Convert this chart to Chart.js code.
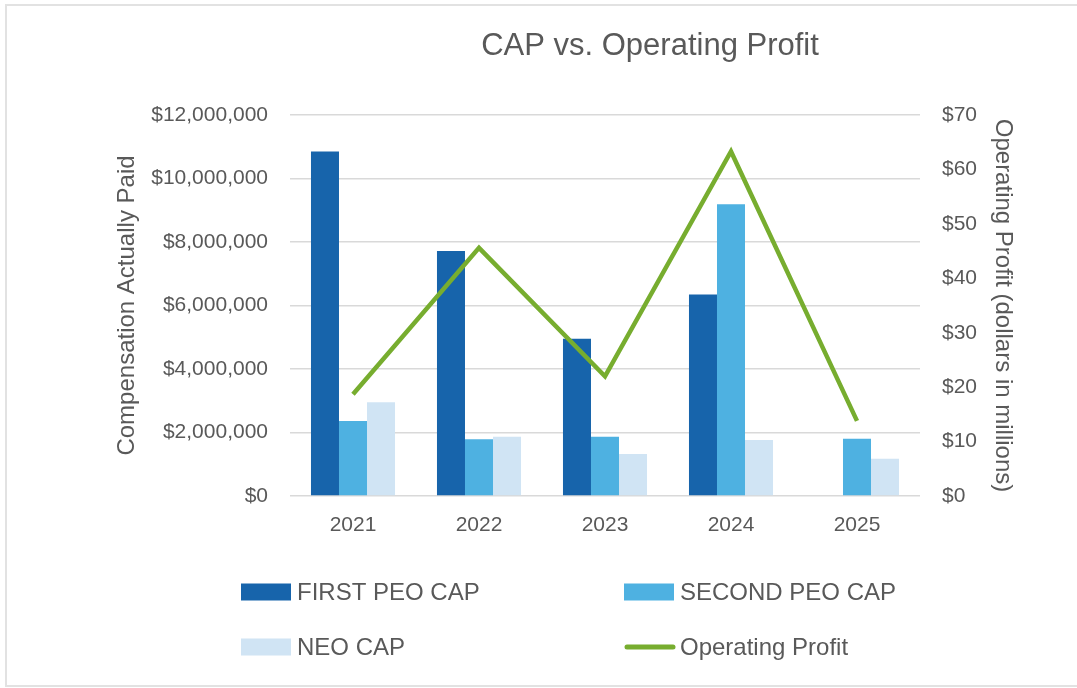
<!DOCTYPE html>
<html>
<head>
<meta charset="utf-8">
<script src="https://cdn.jsdelivr.net/npm/chart.js@4.4.1/dist/chart.umd.min.js"></script>
<style>
  html, body { margin: 0; padding: 0; background: #fff; }
  #wrap { position: relative; width: 1077px; height: 688px; }
</style>
</head>
<body>
<div id="wrap"><canvas id="c" width="1077" height="688"></canvas></div>
<script>
const chartTitle = 'CAP vs. Operating Profit';
const categories = ['2021', '2022', '2023', '2024', '2025'];
const firstPeoCap = [10850000, 7720000, 4950000, 6350000, null];
const secondPeoCap = [2360000, 1790000, 1870000, 9190000, 1800000];
const neoCap = [2950000, 1870000, 1320000, 1760000, 1170000];
const operatingProfit = [18.7, 45.6, 22.0, 63.3, 13.8];
const leftTicks = [0, 2000000, 4000000, 6000000, 8000000, 10000000, 12000000];
const rightTicks = [0, 10, 20, 30, 40, 50, 60, 70];
const seriesLabels = ['FIRST PEO CAP', 'SECOND PEO CAP', 'NEO CAP', 'Operating Profit'];

const FONT = '"Liberation Sans", Arial, sans-serif';
const TXT = '#595959';

const framePlugin = {
  id: 'frame',
  beforeDraw(chart) {
    const ctx = chart.ctx;
    ctx.save();
    ctx.fillStyle = '#ffffff';
    ctx.fillRect(0, 0, chart.width, chart.height);
    ctx.strokeStyle = '#e2e2e2';
    ctx.lineWidth = 2;
    ctx.beginPath();
    ctx.moveTo(1077, 5);
    ctx.lineTo(6, 5);
    ctx.lineTo(6, 686);
    ctx.lineTo(1077, 686);
    ctx.stroke();
    ctx.restore();
  }
};

const titleLegendPlugin = {
  id: 'titleLegend',
  afterDraw(chart) {
    const ctx = chart.ctx;
    ctx.save();
    ctx.fillStyle = TXT;
    ctx.font = '31px ' + FONT;
    ctx.textAlign = 'center';
    ctx.textBaseline = 'alphabetic';
    ctx.fillText(chartTitle, 650, 55);

    const cols = [241, 624];
    const rows = [592, 647];
    chart.data.datasets.forEach((ds, i) => {
      const x = cols[i % 2];
      const y = rows[Math.floor(i / 2)];
      if (ds.type === 'line') {
        ctx.strokeStyle = ds.borderColor;
        ctx.lineWidth = 5;
        ctx.lineCap = 'round';
        ctx.beginPath();
        ctx.moveTo(x + 3, y);
        ctx.lineTo(x + 49, y);
        ctx.stroke();
      } else {
        ctx.fillStyle = ds.backgroundColor;
        ctx.fillRect(x, y - 8.5, 50, 17);
      }
      ctx.fillStyle = TXT;
      ctx.font = '24px ' + FONT;
      ctx.textAlign = 'left';
      ctx.textBaseline = 'middle';
      ctx.fillText(ds.label, x + 56, y + 1);
    });
    ctx.restore();
  }
};

new Chart(document.getElementById('c'), {
  data: {
    labels: categories,
    datasets: [
      { type: 'bar', label: seriesLabels[0], data: firstPeoCap, backgroundColor: '#1764AB', yAxisID: 'y', order: 1 },
      { type: 'bar', label: seriesLabels[1], data: secondPeoCap, backgroundColor: '#4EB1E1', yAxisID: 'y', order: 1 },
      { type: 'bar', label: seriesLabels[2], data: neoCap, backgroundColor: '#D0E4F4', yAxisID: 'y', order: 1 },
      { type: 'line', label: seriesLabels[3], data: operatingProfit, borderColor: '#77AD2F', backgroundColor: '#77AD2F',
        borderWidth: 4.5, pointRadius: 0, tension: 0, yAxisID: 'y1', order: 0 }
    ]
  },
  options: {
    responsive: false,
    animation: false,
    devicePixelRatio: 1,
    layout: { padding: { left: 100, right: 50, top: 115, bottom: 0 } },
    datasets: { bar: { barPercentage: 1, categoryPercentage: 0.667 } },
    plugins: {
      legend: { display: false },
      title: { display: false },
      tooltip: { enabled: false }
    },
    scales: {
      x: {
        grid: { display: false, drawTicks: false },
        border: { display: false },
        ticks: { color: TXT, font: { family: FONT, size: 21 }, padding: 17 },
        afterFit: s => { s.height = 192; }
      },
      y: {
        position: 'left',
        min: leftTicks[0], max: leftTicks[leftTicks.length - 1],
        afterBuildTicks: s => { s.ticks = leftTicks.map(v => ({ value: v })); },
        grid: { color: '#d9d9d9', lineWidth: 1.5, drawTicks: false },
        border: { display: false },
        ticks: { color: TXT, font: { family: FONT, size: 21 }, padding: 22,
          callback: v => '$' + Number(v).toLocaleString('en-US') },
        title: { display: true, text: 'Compensation Actually Paid', color: TXT,
          font: { family: FONT, size: 24 }, padding: { top: 12.5, bottom: 0 } },
        afterFit: s => { s.width = 190; }
      },
      y1: {
        position: 'right',
        min: rightTicks[0], max: rightTicks[rightTicks.length - 1],
        afterBuildTicks: s => { s.ticks = rightTicks.map(v => ({ value: v })); },
        grid: { display: false, drawTicks: false },
        border: { display: false },
        ticks: { color: TXT, font: { family: FONT, size: 21 }, padding: 22,
          callback: v => '$' + v },
        title: { display: true, text: 'Operating Profit (dollars in millions)', color: TXT,
          font: { family: FONT, size: 24 }, padding: { top: 10, bottom: 0 } },
        afterFit: s => { s.width = 107; }
      }
    }
  },
  plugins: [framePlugin, titleLegendPlugin]
});
</script>
</body>
</html>
